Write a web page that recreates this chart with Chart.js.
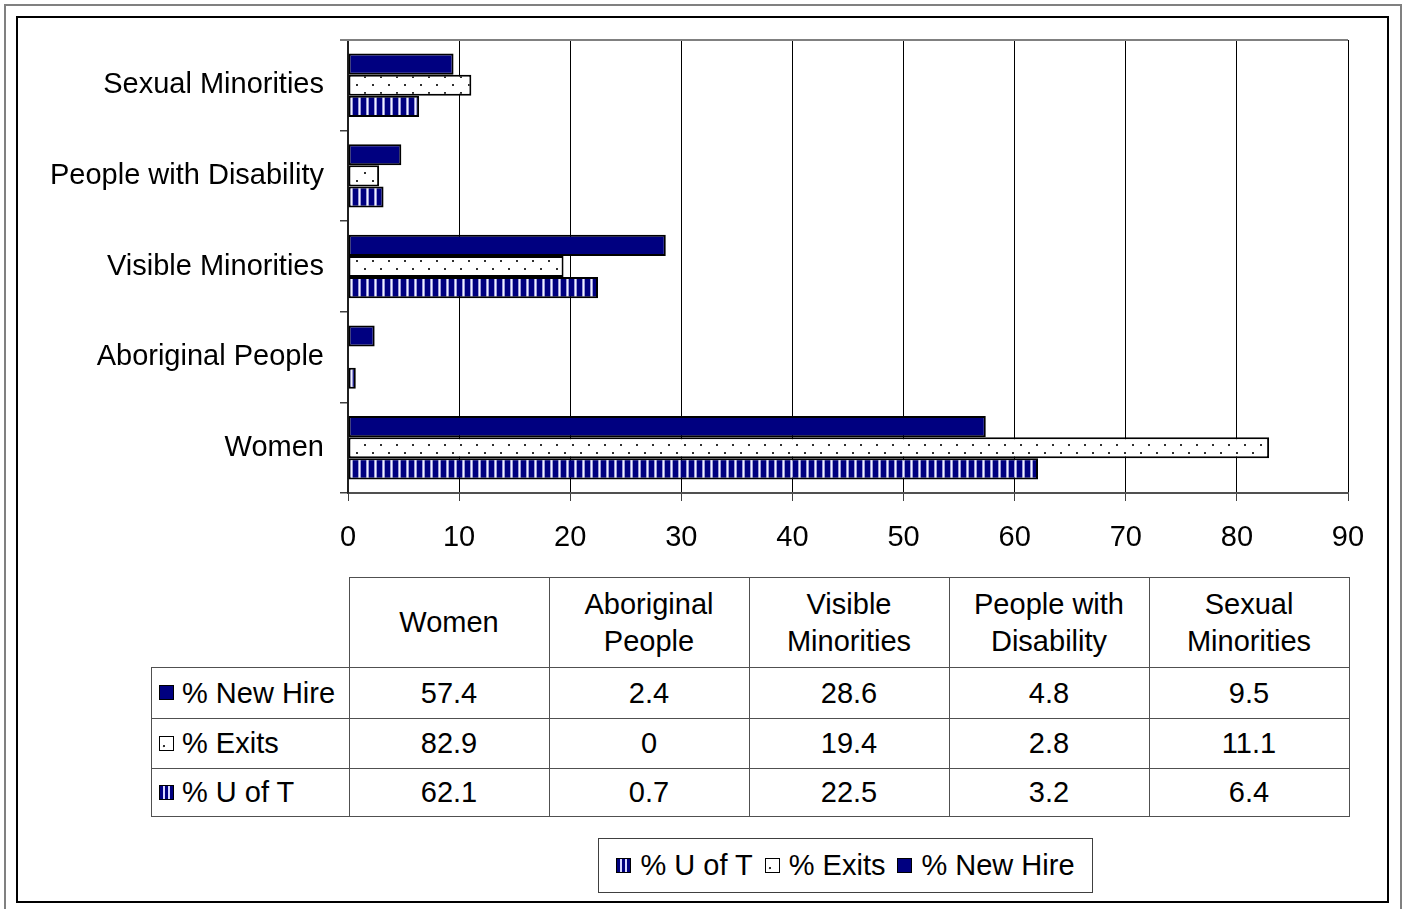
<!DOCTYPE html>
<html>
<head>
<meta charset="utf-8">
<script src="https://cdn.jsdelivr.net/npm/chart.js@4.4.0/dist/chart.umd.min.js"></script>
<style>
  html, body { margin:0; padding:0; background:#fff; }
  body { width:1404px; height:909px; position:relative; overflow:hidden; font-family:"Liberation Sans", Arial, sans-serif; color:#000; }
  #outer { position:absolute; left:4px; top:4px; width:1398px; height:930px; border:2px solid #808080; box-sizing:border-box; }
  #inner { position:absolute; left:16px; top:16px; width:1373px; height:887px; border:2px solid #000; box-sizing:border-box; }
  #chart { position:absolute; left:17px; top:17px; }
  #tbl { position:absolute; left:151px; top:577px; border-collapse:collapse; font-size:29px; }
  #tbl td { border:1px solid #505050; text-align:center; vertical-align:middle; padding:0; }
  #tbl td.empty { border-top:none; border-left:none; }
  #tbl td.lab { text-align:left; padding-left:7px; white-space:nowrap; }
  .sw { display:inline-block; width:13px; height:13px; border:1.5px solid #000; vertical-align:middle; margin-right:8px; position:relative; top:-2px; box-sizing:content-box; }
  .sw.nh { background:#000080; }
  .sw.ex { background:#fff radial-gradient(circle at 30% 70%, #333 0 1px, transparent 1.5px); }
  .sw.ut { background:repeating-linear-gradient(90deg, #000080 0 3px, #d8d8ff 3px 5px); }
  #legend { position:absolute; left:598px; top:838px; width:495px; height:55px; border:1px solid #404040; box-sizing:border-box; font-size:29px; display:flex; align-items:center; justify-content:center; white-space:nowrap; }
  #legend .it { margin:0 6px; }
  #legend .sw { margin-right:9px; }
</style>
</head>
<body>
<div id="outer"></div>
<div id="inner"></div>
<canvas id="chart" width="1371" height="545"></canvas>
<table id="tbl"></table>
<div id="legend"></div>
<script>
// ---- data ----
const categories = ['Women', 'Aboriginal People', 'Visible Minorities', 'People with Disability', 'Sexual Minorities'];
const seriesNames = ['% New Hire', '% Exits', '% U of T'];
const newHire = [57.4, 2.4, 28.6, 4.8, 9.5];
const exits = [82.9, 0, 19.4, 2.8, 11.1];
const uOfT = [62.1, 0.7, 22.5, 3.2, 6.4];
const xTicks = [0, 10, 20, 30, 40, 50, 60, 70, 80, 90];

const FONT = '"Liberation Sans", Arial, sans-serif';

// ---- patterns ----
function dotPattern() {
  const c = document.createElement('canvas'); c.width = 16; c.height = 16;
  const g = c.getContext('2d');
  g.fillStyle = '#fff'; g.fillRect(0,0,16,16);
  g.fillStyle = '#303030';
  g.fillRect(3,3,2,2); g.fillRect(11,11,2,2);
  return g.createPattern(c, 'repeat');
}
function stripePattern() {
  const c = document.createElement('canvas'); c.width = 8; c.height = 8;
  const g = c.getContext('2d');
  g.fillStyle = '#000080'; g.fillRect(0,0,8,8);
  g.fillStyle = '#9a9ad8'; g.fillRect(5,0,1,8); g.fillRect(7,0,1,8);
  g.fillStyle = '#f0f0ff'; g.fillRect(6,0,1,8);
  return g.createPattern(c, 'repeat');
}
const ctx = document.getElementById('chart').getContext('2d');
const fills = ['#000080', dotPattern(), stripePattern()];
const seriesData = [newHire, exits, uOfT];

const topLine = {
  id: 'topLine',
  afterDraw(chart) {
    const a = chart.chartArea, g = chart.ctx;
    g.save(); g.strokeStyle = '#808080'; g.lineWidth = 2;
    g.beginPath(); g.moveTo(a.left - 8, a.top); g.lineTo(a.right, a.top); g.stroke();
    g.restore();
  }
};

new Chart(ctx, {
  type: 'bar',
  data: {
    labels: categories,
    datasets: seriesNames.map((n, i) => ({
      label: n,
      data: seriesData[i],
      backgroundColor: fills[i],
      borderColor: '#000',
      borderWidth: (c) => (c.raw === 0 ? 0 : 2),
      borderSkipped: false,
      categoryPercentage: 0.7,
      barPercentage: 1.0
    }))
  },
  options: {
    indexAxis: 'y',
    responsive: false,
    devicePixelRatio: 1,
    animation: false,
    layout: { padding: { top: 23, right: 40, left: 0, bottom: 0 } },
    plugins: { legend: { display: false }, tooltip: { enabled: false } },
    scales: {
      x: {
        min: 0, max: 90,
        afterBuildTicks: (s) => { s.ticks = xTicks.map(v => ({ value: v })); },
        afterFit: (s) => { s.height = 69; s.paddingLeft = 0; s.paddingRight = 0; },
        grid: { color: '#000', lineWidth: 1, drawTicks: true, tickLength: 8, tickColor: '#404040' },
        border: { color: '#505050', width: 2 },
        ticks: { color: '#000', font: { family: FONT, size: 29 }, padding: 20, maxRotation: 0 }
      },
      y: {
        reverse: true,
        afterFit: (s) => { s.width = 331; s.paddingTop = 0; s.paddingBottom = 0; },
        grid: { drawOnChartArea: false, drawTicks: true, tickLength: 8, color: '#404040', lineWidth: 1.5 },
        border: { color: '#202020', width: 2 },
        ticks: { color: '#000', font: { family: FONT, size: 29 }, padding: 16 }
      }
    }
  },
  plugins: [topLine]
});

// ---- data table ----
const swClass = ['nh', 'ex', 'ut'];
const tbl = document.getElementById('tbl');
let html = '<tr style="height:90px"><td class="empty" style="width:197px"></td>';
categories.forEach(c => { html += '<td style="width:199px;line-height:37px">' + c + '</td>'; });
html += '</tr>';
const rowH = [51, 50, 48];
seriesNames.forEach((n, i) => {
  html += '<tr style="height:' + rowH[i] + 'px"><td class="lab"><span class="sw ' + swClass[i] + '"></span>' + n + '</td>';
  seriesData[i].forEach(v => { html += '<td>' + v + '</td>'; });
  html += '</tr>';
});
tbl.innerHTML = html;

// ---- legend (reversed order) ----
const lg = document.getElementById('legend');
lg.innerHTML = [2, 1, 0].map(i => '<span class="it"><span class="sw ' + swClass[i] + '"></span>' + seriesNames[i] + '</span>').join('');
</script>
</body>
</html>
